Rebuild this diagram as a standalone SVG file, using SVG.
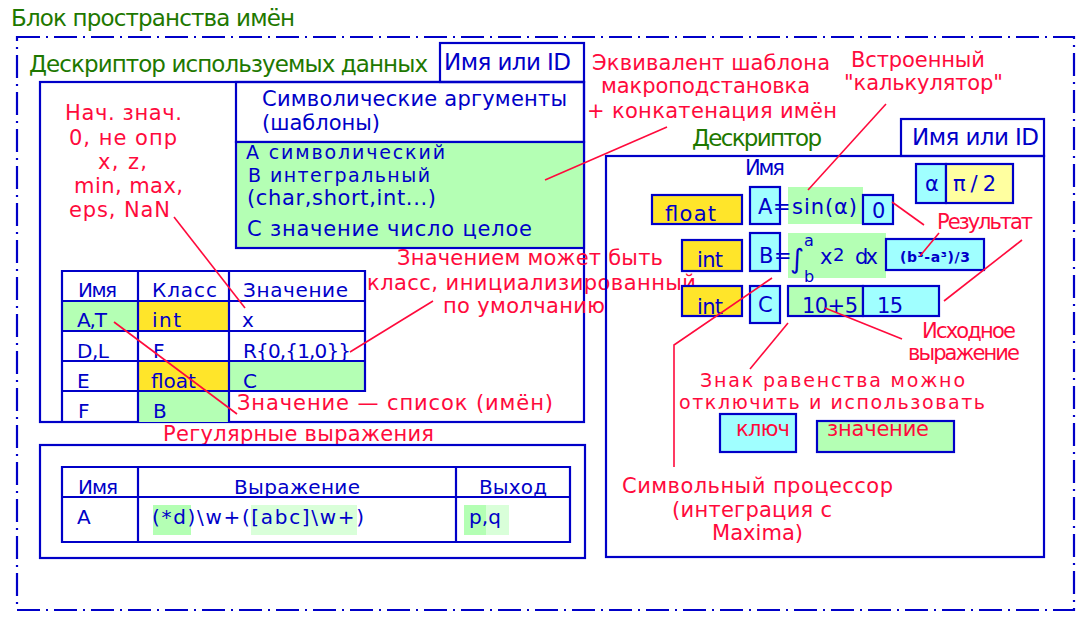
<svg xmlns="http://www.w3.org/2000/svg" width="1083" height="621" viewBox="0 0 1083 621">
<style>
.b{fill:none;stroke:#0000c8;stroke-width:2.2}
.bf{stroke:#0000c8;stroke-width:2.2}
.y{fill:#ffe52a}
.c{fill:#a0ffff}
.g{fill:#b4ffb4}
.lg{fill:#d9ffd9}
.ly{fill:#ffffa0}
.t{font-family:"DejaVu Sans",sans-serif;font-size:21px}
.s{font-size:20px}
.m{font-size:19px}
.L{font-size:23px}
.bl{fill:#0000c8}
.rd{fill:#ff0a3c}
.gr{fill:#1e7800}
.ln{stroke:#ff0a3c;stroke-width:1.6;fill:none}
.dd{fill:none;stroke:#0000c8;stroke-width:2.2;stroke-dasharray:23 6 2 6}
</style>
<rect class="dd" x="17" y="37" width="1057" height="573"/>
<text class="t L gr" x="11" y="26" textLength="284">Блок пространства имён</text>

<g id="left-descriptor">
<text class="t L gr" x="29" y="72" textLength="399">Дескриптор используемых данных</text>
<rect class="b" x="440" y="43" width="144" height="39"/>
<text class="t L bl" x="444" y="70" textLength="127">Имя или ID</text>
<rect class="b" x="40" y="82" width="544" height="340"/>
<rect class="b" x="236" y="82" width="348" height="60"/>
<text class="t bl" x="262" y="106" textLength="305">Символические аргументы</text>
<text class="t bl" x="262" y="130" textLength="118">(шаблоны)</text>
<rect class="g bf" x="236" y="142" width="348" height="106"/>
<text class="t m bl" x="246" y="159" textLength="199">A символический</text>
<text class="t m bl" x="248" y="182" textLength="182">B интегральный</text>
<text class="t bl" x="247" y="205" textLength="189">(char,short,int...)</text>
<text class="t bl" x="247" y="236" textLength="285">C значение число целое</text>
<text class="t rd" x="65" y="120" textLength="117">Нач. знач.</text>
<text class="t rd" x="69" y="145" textLength="108">0, не опр</text>
<text class="t rd" x="98" y="169" textLength="49">x, z,</text>
<text class="t rd" x="74" y="193" textLength="109">min, max,</text>
<text class="t rd" x="69" y="217" textLength="101">eps, NaN</text>
</g>

<g id="left-table">
<rect class="g" x="62" y="301" width="76" height="30"/>
<rect class="y" x="138" y="301" width="91" height="30"/>
<rect class="y" x="138" y="361" width="91" height="30"/>
<rect class="g" x="229" y="361" width="136" height="30"/>
<rect class="g" x="138" y="391" width="91" height="31"/>
<path class="b" d="M62 271H365V391H62ZM62 301H365M62 331H365M62 361H365M62 391V422M138 271V422M229 271V422"/>
<text class="t s bl" x="78" y="297" textLength="39">Имя</text>
<text class="t s bl" x="152" y="297" textLength="65">Класс</text>
<text class="t s bl" x="243" y="297" textLength="105">Значение</text>
<text class="t s bl" x="77" y="327" textLength="30">A,T</text>
<text class="t s bl" x="152" y="327" textLength="29">int</text>
<text class="t s bl" x="242" y="327">x</text>
<text class="t s bl" x="77" y="358" textLength="32">D,L</text>
<text class="t s bl" x="153" y="358">F</text>
<text class="t s bl" x="243" y="358" textLength="108">R{0,{1,0}}</text>
<text class="t s bl" x="77" y="388">E</text>
<text class="t s bl" x="151" y="388">float</text>
<text class="t s bl" x="243" y="388">C</text>
<text class="t s bl" x="78" y="418">F</text>
<text class="t s bl" x="153" y="418">B</text>
</g>

<g id="notes-middle">
<text class="t rd" x="397" y="265" textLength="266">Значением может быть</text>
<text class="t rd" x="367" y="290" textLength="329">класс, инициализированный</text>
<text class="t rd" x="443" y="313" textLength="162">по умолчанию</text>
<text class="t rd" x="237" y="410" textLength="316">Значение — список (имён)</text>
<text class="t rd" x="163" y="441" textLength="271">Регулярные выражения</text>
<text class="t rd" x="592" y="70" textLength="238">Эквивалент шаблона</text>
<text class="t rd" x="601" y="93" textLength="209">макроподстановка</text>
<text class="t rd" x="587" y="118" textLength="250">+ конкатенация имён</text>
<text class="t rd" x="851" y="67" textLength="134">Встроенный</text>
<text class="t rd" x="844" y="90" textLength="159">"калькулятор"</text>
</g>

<g id="regex">
<rect class="b" x="40" y="445" width="545" height="113"/>
<rect class="g" x="153" y="505" width="38" height="30"/>
<rect class="lg" x="251" y="505" width="106" height="30"/>
<rect class="g" x="464" y="505" width="22" height="30"/>
<rect class="lg" x="486" y="505" width="23" height="30"/>
<path class="b" d="M62 467H570V542H62ZM62 497H570M138 467V542M456 467V542"/>
<text class="t s bl" x="78" y="494" textLength="40">Имя</text>
<text class="t s bl" x="234" y="494" textLength="126">Выражение</text>
<text class="t s bl" x="479" y="494" textLength="68">Выход</text>
<text class="t s bl" x="77" y="524">A</text>
<text class="t s bl" x="152" y="524" textLength="212">(*d)\w+([abc]\w+)</text>
<text class="t s bl" x="469" y="524" textLength="32">p,q</text>
</g>

<g id="right-descriptor">
<text class="t L gr" x="692" y="146" textLength="130">Дескриптор</text>
<rect class="b" x="901" y="119" width="143" height="37"/>
<text class="t L bl" x="912" y="145" textLength="127">Имя или ID</text>
<rect class="b" x="606" y="156" width="438" height="401"/>
<text class="t bl" x="745" y="175" textLength="40">Имя</text>
</g>

<g id="alpha">
<rect class="c bf" x="916" y="164" width="30" height="39"/>
<rect class="ly bf" x="946" y="164" width="67" height="39"/>
<text class="t bl" x="925" y="191">α</text>
<text class="t bl" x="953" y="191" textLength="43">π/2</text>
</g>

<g id="row-a">
<rect class="y bf" x="652" y="195" width="90" height="29"/>
<text class="t bl" x="665" y="221" textLength="51">float</text>
<rect class="c bf" x="750" y="187" width="30" height="37"/>
<text class="t bl" x="758" y="214">A</text>
<rect class="g" x="788" y="187" width="75" height="37"/>
<text class="t bl" x="773" y="214">=</text>
<text class="t bl" x="792" y="214" textLength="65">sin(α)</text>
<rect class="c bf" x="863" y="195" width="30" height="29"/>
<text class="t bl" x="872" y="218">0</text>
</g>

<g id="row-b">
<rect class="y bf" x="682" y="240" width="60" height="31"/>
<text class="t bl" x="697" y="267" textLength="26">int</text>
<rect class="c bf" x="750" y="233" width="30" height="38"/>
<text class="t bl" x="759" y="263">B</text>
<rect class="g" x="788" y="233" width="98" height="45"/>
<text class="t bl" x="774" y="263">=</text>
<text class="t bl" style="font-size:27px" x="790" y="268">∫</text>
<text class="t bl" style="font-size:16px" x="804" y="246">a</text>
<text class="t bl" style="font-size:16px" x="804" y="282">b</text>
<text class="t bl" x="820" y="264">x</text>
<text class="t bl" style="font-size:18px" x="833" y="261">2</text>
<text class="t bl" x="855" y="264" textLength="23">dx</text>
<rect class="c bf" x="886" y="239" width="98" height="31"/>
<text class="t bl" style="font-size:14px;font-weight:bold" x="900" y="262" textLength="70">(b³-a³)/3</text>
</g>

<g id="row-c">
<rect class="y bf" x="682" y="286" width="60" height="30"/>
<text class="t bl" x="697" y="314" textLength="26">int</text>
<rect class="c bf" x="750" y="286" width="30" height="37"/>
<text class="t bl" x="758" y="312">C</text>
<rect class="g bf" x="788" y="286" width="75" height="30"/>
<text class="t bl" x="802" y="313" textLength="56">10+5</text>
<rect class="c bf" x="863" y="286" width="76" height="30"/>
<text class="t bl" x="877" y="313" textLength="26">15</text>
</g>

<g id="key-value">
<rect class="c bf" x="720" y="414" width="76" height="38"/>
<text class="t rd" x="736" y="436" textLength="54">ключ</text>
<rect class="g bf" x="817" y="421" width="137" height="31"/>
<text class="t rd" x="827" y="436" textLength="102">значение</text>
</g>

<g id="notes-right">
<text class="t rd" x="937" y="229" textLength="96">Результат</text>
<text class="t rd" x="922" y="338" textLength="94">Исходное</text>
<text class="t rd" x="908" y="360" textLength="112">выражение</text>
<text class="t m rd" x="700" y="387" textLength="265">Знак равенства можно</text>
<text class="t m rd" x="679" y="409" textLength="306">отключить и использовать</text>
<text class="t rd" x="622" y="493" textLength="271">Символьный процессор</text>
<text class="t rd" x="672" y="517" textLength="160">(интеграция с</text>
<text class="t rd" x="712" y="540" textLength="91">Maxima)</text>
</g>

<g id="connectors">
<line class="ln" x1="174" y1="217" x2="245" y2="308"/>
<line class="ln" x1="114" y1="322" x2="237" y2="414"/>
<line class="ln" x1="350" y1="352" x2="433" y2="301"/>
<line class="ln" x1="667" y1="127" x2="545" y2="180"/>
<line class="ln" x1="886" y1="104" x2="808" y2="190"/>
<line class="ln" x1="892" y1="202" x2="924" y2="225"/>
<line class="ln" x1="939" y1="233" x2="920" y2="256"/>
<line class="ln" x1="1022" y1="240" x2="944" y2="301"/>
<line class="ln" x1="825" y1="308" x2="902" y2="339"/>
<line class="ln" x1="788" y1="323" x2="750" y2="369"/>
<polyline class="ln" points="674,467 674,345 772,278"/>
</g>
</svg>
